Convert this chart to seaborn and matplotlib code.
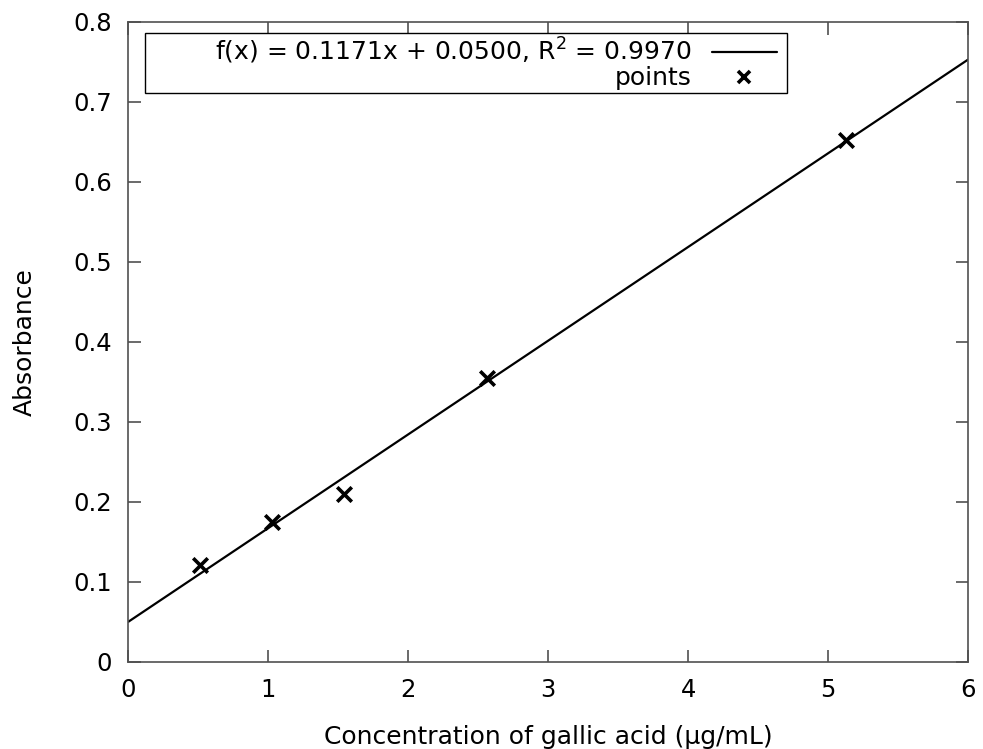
import numpy as np
import pandas as pd
import matplotlib
matplotlib.use("Agg")
import matplotlib.pyplot as plt
from matplotlib.lines import Line2D
from matplotlib.patches import Rectangle
import seaborn as sns

# data
conc = [0.5125, 1.025, 1.5375, 2.5625, 5.125]
absorb = [0.121, 0.174, 0.2095, 0.354, 0.652]
slope = 0.1171
intercept = 0.0500
r2 = 0.9970
x_ticks = [0, 1, 2, 3, 4, 5, 6]
y_ticks = [0, 0.1, 0.2, 0.3, 0.4, 0.5, 0.6, 0.7, 0.8]
y_tick_labels = ["0", "0.1", "0.2", "0.3", "0.4", "0.5", "0.6", "0.7", "0.8"]

sns.set_theme(style="white")
plt.rcParams['font.family'] = ['DejaVu Sans']
plt.rcParams['text.color'] = 'black'

fig = plt.figure(figsize=(9.83, 7.49), dpi=100)
ax = fig.add_axes([0.1307, 0.1166, 0.8540, 0.8544])

fit_x = np.array([0.0, 6.0])
fit_df = pd.DataFrame({"x": fit_x, "y": slope * fit_x + intercept})
pts_df = pd.DataFrame({"x": conc, "y": absorb})

sns.lineplot(data=fit_df, x="x", y="y", ax=ax, color="black", linewidth=1.6)
sns.scatterplot(data=pts_df, x="x", y="y", ax=ax, marker="x", color="black",
                s=110, linewidth=2.6, zorder=5)

ax.set_xlim(0, 6)
ax.set_ylim(0, 0.8)
ax.set_xticks(x_ticks)
ax.set_xticklabels([str(v) for v in x_ticks])
ax.set_yticks(y_ticks)
ax.set_yticklabels(y_tick_labels)

edge = "#505050"
for s in ax.spines.values():
    s.set_color(edge)
    s.set_linewidth(1.2)
ax.tick_params(direction="in", length=9, width=1.2, color=edge, labelsize=17.5,
               labelcolor="black", top=True, right=True, bottom=True, left=True, pad=12)

ax.set_xlabel("Concentration of gallic acid (µg/mL)", fontsize=18, labelpad=16, color="black")
ax.set_ylabel("Absorbance", fontsize=18, labelpad=26, color="black")

# legend box
ax.add_patch(Rectangle((0.0197, 0.889), 0.7643, 0.093, transform=ax.transAxes,
                       fill=True, facecolor="white", edgecolor="black", linewidth=1.0, zorder=6))
handles = [Line2D([], [], color="black", linewidth=1.6),
           Line2D([], [], color="black", marker="x", linestyle="", markersize=9, markeredgewidth=2.6)]
labels = [f"f(x) = {slope:.4f}x + {intercept:.4f}, R$^2$ = {r2:.4f}", "points"]
leg = ax.legend(handles, labels, loc="upper right", bbox_to_anchor=(0.784, 0.993),
                frameon=False, markerfirst=False, fontsize=18, handlelength=2.6,
                handletextpad=0.8, labelspacing=0.0, borderaxespad=0.0)
for t in leg.get_texts():
    t.set_color("black")
leg.set_zorder(7)

fig.savefig("out.png", dpi=100)
